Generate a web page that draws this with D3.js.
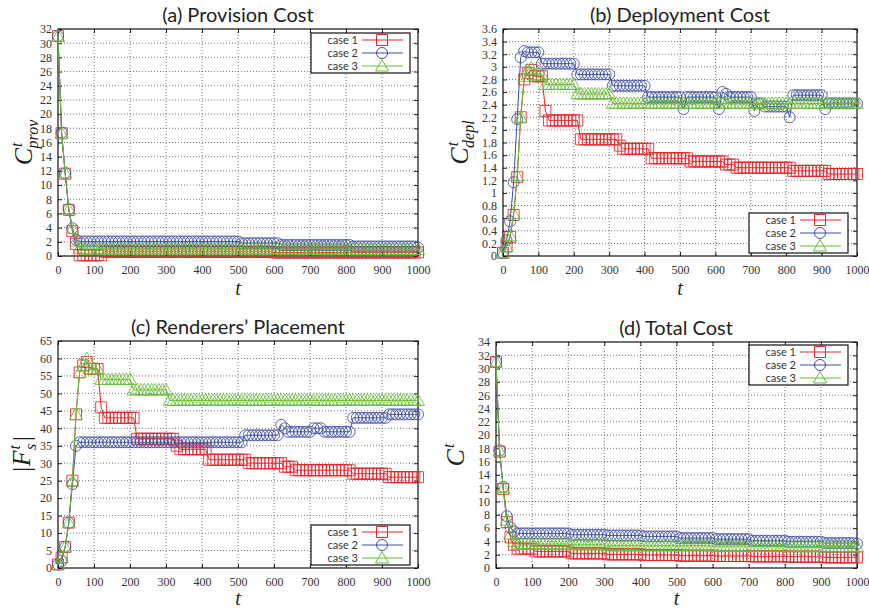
<!DOCTYPE html>
<html>
<head>
<meta charset="utf-8">
<script src="https://cdn.jsdelivr.net/npm/d3@7"></script>
<style>
  body { margin: 0; background: #fff; }
  .title { font-family: "Lato", sans-serif; font-size: 20px; fill: #222; }
  .legend-text { font-family: "Lato", sans-serif; font-size: 11px; fill: #333; }
  .math { font-family: "Liberation Serif", serif; font-style: italic; fill: #222; }
</style>
</head>
<body>
<script>
// time steps (markers every 10 slots)
var tSteps = d3.range(0, 1001, 10);
var caseNames = ["case 1", "case 2", "case 3"];

// (a) Provision cost
var prov1 = [31, 17.3, 11.6, 6.5, 3.5, 1.7, 0.1, 0.1, 0.1, 0.1,
  0.1, 0.1, 0.1, 0.6, 0.6, 0.6, 0.6, 0.6, 0.6, 0.6,
  0.6, 0.6, 0.6, 0.6, 0.6, 0.6, 0.6, 0.6, 0.6, 0.6,
  0.6, 0.6, 0.6, 0.6, 0.6, 0.6, 0.6, 0.6, 0.6, 0.6,
  0.6, 0.6, 0.6, 0.6, 0.6, 0.6, 0.6, 0.6, 0.6, 0.6,
  0.6, 0.6, 0.6, 0.6, 0.6, 0.6, 0.6, 0.6, 0.6, 0.6,
  0.5, 0.5, 0.5, 0.5, 0.5, 0.5, 0.5, 0.5, 0.5, 0.5,
  0.5, 0.5, 0.5, 0.5, 0.5, 0.5, 0.5, 0.5, 0.5, 0.5,
  0.5, 0.5, 0.5, 0.5, 0.5, 0.5, 0.5, 0.5, 0.5, 0.5,
  0.5, 0.5, 0.5, 0.5, 0.5, 0.5, 0.5, 0.5, 0.5, 0.5,
  0.5];
var prov2 = [31, 17.4, 11.7, 6.6, 3.9, 2.3, 2.05, 2.05, 2.05, 2.05,
  2.05, 2.05, 2.05, 2.05, 2.05, 2.05, 2.05, 2.05, 2.05, 2.05,
  2.05, 2.05, 2.05, 2.05, 2.05, 2.05, 2.05, 2.05, 2.05, 2.05,
  2.05, 2.05, 2.05, 2.05, 2.05, 2.05, 2.05, 2.05, 2.05, 2.05,
  2.05, 2.05, 2.05, 2.05, 2.05, 2.05, 2.05, 2.05, 2.05, 2.05,
  2.05, 1.8, 1.8, 1.8, 1.8, 1.8, 1.8, 1.8, 1.8, 1.8,
  1.8, 1.8, 1.55, 1.55, 1.55, 1.55, 1.55, 1.55, 1.55, 1.55,
  1.55, 1.55, 1.55, 1.55, 1.55, 1.55, 1.55, 1.55, 1.55, 1.55,
  1.55, 1.55, 1.35, 1.35, 1.35, 1.35, 1.35, 1.35, 1.35, 1.35,
  1.35, 1.35, 1.35, 1.35, 1.35, 1.35, 1.35, 1.35, 1.35, 1.35,
  1.2];
var prov3 = [31, 17.3, 11.7, 6.6, 3.9, 2.1, 1.1, 1.0, 1.0, 1.0,
  1.0, 1.0, 1.0, 1.0, 1.0, 1.0, 1.0, 1.0, 1.0, 1.0,
  1.0, 1.0, 1.0, 1.0, 1.0, 1.0, 1.0, 1.0, 1.0, 1.0,
  1.0, 1.0, 1.0, 1.0, 1.0, 1.0, 1.0, 1.0, 1.0, 1.0,
  1.0, 1.0, 1.0, 1.0, 1.0, 1.0, 1.0, 1.0, 1.0, 1.0,
  1.0, 1.0, 1.0, 1.0, 1.0, 1.0, 1.0, 1.0, 1.0, 1.0,
  0.95, 0.95, 0.95, 0.95, 0.95, 0.95, 0.95, 0.95, 0.95, 0.95,
  0.95, 0.95, 0.95, 0.95, 0.95, 0.95, 0.95, 0.95, 0.95, 0.95,
  0.9, 0.9, 0.9, 0.9, 0.9, 0.9, 0.9, 0.9, 0.9, 0.9,
  0.9, 0.9, 0.9, 0.9, 0.9, 0.9, 0.9, 0.9, 0.9, 0.9,
  0.9];

// (b) Deployment cost
var depl1 = [0.05, 0.15, 0.3, 0.65, 1.25, 2.2, 2.8, 2.9, 2.95, 2.85,
  2.85, 2.85, 2.3, 2.15, 2.15, 2.15, 2.15, 2.15, 2.15, 2.15,
  2.15, 2.15, 1.85, 1.85, 1.85, 1.85, 1.85, 1.85, 1.85, 1.85,
  1.85, 1.85, 1.85, 1.75, 1.7, 1.7, 1.7, 1.7, 1.7, 1.7,
  1.7, 1.7, 1.55, 1.55, 1.55, 1.55, 1.55, 1.55, 1.55, 1.55,
  1.55, 1.55, 1.55, 1.5, 1.5, 1.5, 1.5, 1.5, 1.5, 1.5,
  1.5, 1.5, 1.5, 1.45, 1.45, 1.45, 1.4, 1.4, 1.4, 1.4,
  1.4, 1.4, 1.4, 1.4, 1.4, 1.4, 1.4, 1.4, 1.4, 1.4,
  1.4, 1.4, 1.35, 1.35, 1.35, 1.35, 1.35, 1.35, 1.35, 1.35,
  1.35, 1.35, 1.3, 1.3, 1.3, 1.3, 1.3, 1.3, 1.3, 1.3,
  1.3];
var depl2 = [0.05, 0.25, 0.55, 1.17, 2.17, 3.15, 3.25, 3.23, 3.23, 3.23,
  3.23, 3.05, 3.05, 3.05, 3.05, 3.05, 3.05, 3.05, 3.05, 3.05,
  3.05, 2.88, 2.88, 2.88, 2.88, 2.88, 2.88, 2.88, 2.88, 2.88,
  2.88, 2.7, 2.7, 2.7, 2.7, 2.7, 2.7, 2.7, 2.7, 2.7,
  2.7, 2.52, 2.52, 2.52, 2.52, 2.52, 2.52, 2.52, 2.52, 2.52,
  2.52, 2.33, 2.52, 2.52, 2.52, 2.52, 2.52, 2.52, 2.52, 2.52,
  2.52, 2.33, 2.6, 2.57, 2.52, 2.52, 2.52, 2.52, 2.52, 2.52,
  2.52, 2.3, 2.42, 2.42, 2.37, 2.37, 2.37, 2.37, 2.37, 2.37,
  2.37, 2.2, 2.55, 2.55, 2.55, 2.55, 2.55, 2.55, 2.55, 2.55,
  2.55, 2.33, 2.42, 2.42, 2.42, 2.42, 2.42, 2.42, 2.42, 2.42,
  2.42];
var depl3 = [0.05, 0.15, 0.32, 0.67, 1.27, 2.2, 2.85, 2.95, 2.98, 2.87,
  2.87, 2.87, 2.72, 2.72, 2.72, 2.72, 2.72, 2.72, 2.72, 2.72,
  2.72, 2.57, 2.57, 2.57, 2.57, 2.57, 2.57, 2.57, 2.57, 2.57,
  2.57, 2.42, 2.42, 2.42, 2.42, 2.42, 2.42, 2.42, 2.42, 2.42,
  2.42, 2.42, 2.42, 2.42, 2.42, 2.42, 2.42, 2.42, 2.42, 2.42,
  2.42, 2.42, 2.42, 2.42, 2.42, 2.42, 2.42, 2.42, 2.42, 2.42,
  2.42, 2.42, 2.42, 2.42, 2.42, 2.42, 2.42, 2.42, 2.42, 2.42,
  2.42, 2.42, 2.42, 2.42, 2.42, 2.42, 2.42, 2.42, 2.42, 2.42,
  2.42, 2.42, 2.42, 2.42, 2.42, 2.42, 2.42, 2.42, 2.42, 2.42,
  2.42, 2.42, 2.42, 2.42, 2.42, 2.42, 2.42, 2.42, 2.42, 2.42,
  2.42];

// (c) Renderers' placement
var rend1 = [1, 3, 6, 13, 25, 44, 56, 58, 59, 57,
  57, 57, 46, 43, 43, 43, 43, 43, 43, 43,
  43, 43, 37, 37, 37, 37, 37, 37, 37, 37,
  37, 37, 37, 35, 34, 34, 34, 34, 34, 34,
  34, 34, 31, 31, 31, 31, 31, 31, 31, 31,
  31, 31, 31, 30, 30, 30, 30, 30, 30, 30,
  30, 30, 30, 29, 29, 29, 28, 28, 28, 28,
  28, 28, 28, 28, 28, 28, 28, 28, 28, 28,
  28, 28, 27, 27, 27, 27, 27, 27, 27, 27,
  27, 27, 26, 26, 26, 26, 26, 26, 26, 26,
  26];
var rend2 = [1, 2, 6, 13, 24, 35, 36, 36, 36, 36,
  36, 36, 36, 36, 36, 36, 36, 36, 36, 36,
  36, 36, 36, 36, 36, 36, 36, 36, 36, 36,
  36, 36, 36, 36, 36, 36, 36, 36, 36, 36,
  36, 36, 36, 36, 36, 36, 36, 36, 36, 36,
  36, 36, 38, 38, 38, 38, 38, 38, 38, 38,
  38, 38, 41, 40, 39, 39, 39, 39, 39, 39,
  39, 40, 40, 40, 39, 39, 39, 39, 39, 39,
  39, 39, 43, 43, 43, 43, 43, 43, 43, 43,
  43, 43, 44, 44, 44, 44, 44, 44, 44, 44,
  44];
var rend3 = [1, 3, 6, 13, 25, 44, 56, 58, 60, 57,
  57, 57, 54, 54, 54, 54, 54, 54, 54, 54,
  54, 51, 51, 51, 51, 51, 51, 51, 51, 51,
  51, 48, 48, 48, 48, 48, 48, 48, 48, 48,
  48, 48, 48, 48, 48, 48, 48, 48, 48, 48,
  48, 48, 48, 48, 48, 48, 48, 48, 48, 48,
  48, 48, 48, 48, 48, 48, 48, 48, 48, 48,
  48, 48, 48, 48, 48, 48, 48, 48, 48, 48,
  48, 48, 48, 48, 48, 48, 48, 48, 48, 48,
  48, 48, 48, 48, 48, 48, 48, 48, 48, 48,
  48];

// (d) Total cost
var tot1 = [31, 17.5, 11.9, 6.9, 4.6, 3.5, 2.9, 2.9, 2.9, 2.9,
  2.9, 2.5, 2.5, 2.5, 2.5, 2.5, 2.5, 2.5, 2.5, 2.5,
  2.5, 2.2, 2.2, 2.2, 2.2, 2.2, 2.2, 2.2, 2.2, 2.2,
  2.2, 2.05, 2.05, 2.05, 2.05, 2.05, 2.05, 2.05, 2.05, 2.05,
  2.05, 1.95, 1.95, 1.95, 1.95, 1.95, 1.95, 1.95, 1.95, 1.95,
  1.95, 1.85, 1.85, 1.85, 1.85, 1.85, 1.85, 1.85, 1.85, 1.85,
  1.85, 1.8, 1.8, 1.8, 1.8, 1.8, 1.8, 1.8, 1.8, 1.8,
  1.8, 1.75, 1.75, 1.75, 1.75, 1.75, 1.75, 1.75, 1.75, 1.75,
  1.75, 1.7, 1.7, 1.7, 1.7, 1.7, 1.7, 1.7, 1.7, 1.7,
  1.7, 1.6, 1.6, 1.6, 1.6, 1.6, 1.6, 1.6, 1.6, 1.6,
  1.6];
var tot2 = [31, 17.7, 12.2, 7.8, 6.1, 5.5, 5.2, 5.2, 5.2, 5.2,
  5.2, 5.2, 5.2, 5.2, 5.2, 5.2, 5.2, 5.2, 5.2, 5.2,
  5.2, 5.0, 5.0, 5.0, 5.0, 5.0, 5.0, 5.0, 5.0, 5.0,
  5.0, 4.9, 4.9, 4.9, 4.9, 4.9, 4.9, 4.9, 4.9, 4.9,
  4.9, 4.75, 4.75, 4.75, 4.75, 4.75, 4.75, 4.75, 4.75, 4.75,
  4.75, 4.5, 4.5, 4.5, 4.5, 4.5, 4.5, 4.5, 4.5, 4.5,
  4.5, 4.35, 4.35, 4.35, 4.35, 4.35, 4.35, 4.35, 4.35, 4.35,
  4.35, 4.1, 4.1, 4.1, 4.1, 4.1, 4.1, 4.1, 4.1, 4.1,
  4.1, 3.95, 3.95, 3.95, 3.95, 3.95, 3.95, 3.95, 3.95, 3.95,
  3.95, 3.75, 3.75, 3.75, 3.75, 3.75, 3.75, 3.75, 3.75, 3.75,
  3.65];
var tot3 = [31, 17.6, 12.1, 7.2, 5.1, 4.0, 3.6, 3.6, 3.6, 3.6,
  3.6, 3.6, 3.6, 3.6, 3.6, 3.6, 3.6, 3.6, 3.6, 3.6,
  3.6, 3.5, 3.5, 3.5, 3.5, 3.5, 3.5, 3.5, 3.5, 3.5,
  3.5, 3.35, 3.35, 3.35, 3.35, 3.35, 3.35, 3.35, 3.35, 3.35,
  3.35, 3.35, 3.35, 3.35, 3.35, 3.35, 3.35, 3.35, 3.35, 3.35,
  3.35, 3.35, 3.35, 3.35, 3.35, 3.35, 3.35, 3.35, 3.35, 3.35,
  3.3, 3.3, 3.3, 3.3, 3.3, 3.3, 3.3, 3.3, 3.3, 3.3,
  3.25, 3.25, 3.25, 3.25, 3.25, 3.25, 3.25, 3.25, 3.25, 3.25,
  3.2, 3.2, 3.2, 3.2, 3.2, 3.2, 3.2, 3.2, 3.2, 3.2,
  3.2, 3.2, 3.2, 3.2, 3.2, 3.2, 3.2, 3.2, 3.2, 3.2,
  3.2];

var colors = ["#e4252b", "#3d4ea3", "#67bc36"];
var shapes = ["square", "circle", "triangle"];

var svg = d3.select("body").append("svg")
  .attr("width", 869)
  .attr("height", 610);

function markerPath(shape) {
  if (shape == "square") return "M-5.5,-5.5H5.5V5.5H-5.5Z";
  if (shape == "circle") return "M5.5,0A5.5,5.5 0 1,1 -5.5,0A5.5,5.5 0 1,1 5.5,0Z";
  return "M0,-6.5L6.5,5L-6.5,5Z";
}

function drawPanel(p) {
  var x = d3.scaleLinear().domain([0, 1000]).range([p.left, p.right]);
  var y = d3.scaleLinear().domain([0, p.yMax]).range([p.bottom, p.top]);
  var yTicks = d3.range(0, p.yMax + p.yStep / 2, p.yStep);
  var xTicks = d3.range(0, 1001, 100);
  var g = svg.append("g");

  // grid
  g.selectAll(".gx").data(xTicks.slice(1, -1)).enter().append("line")
    .attr("x1", function(d) { return x(d); }).attr("x2", function(d) { return x(d); })
    .attr("y1", p.top).attr("y2", p.bottom)
    .attr("stroke", "#555").attr("stroke-width", 0.8).attr("stroke-dasharray", "1,2");
  g.selectAll(".gy").data(yTicks.slice(1, -1)).enter().append("line")
    .attr("x1", p.left).attr("x2", p.right)
    .attr("y1", function(d) { return y(d); }).attr("y2", function(d) { return y(d); })
    .attr("stroke", "#555").attr("stroke-width", 0.8).attr("stroke-dasharray", "1,2");

  // axes (ticks inside, mirrored)
  var fmt = function(d) { return d3.format("~g")(+d.toFixed(2)); };
  g.append("g").attr("transform", "translate(0," + p.bottom + ")")
    .call(d3.axisBottom(x).tickValues(xTicks).tickSize(-4).tickPadding(9).tickFormat(fmt));
  g.append("g").attr("transform", "translate(" + p.left + ",0)")
    .call(d3.axisLeft(y).tickValues(yTicks).tickSize(-4).tickPadding(6).tickFormat(fmt));
  g.append("g").attr("transform", "translate(0," + p.top + ")")
    .call(d3.axisTop(x).tickValues(xTicks).tickSize(-4).tickFormat(""));
  g.append("g").attr("transform", "translate(" + p.right + ",0)")
    .call(d3.axisRight(y).tickValues(yTicks).tickSize(-4).tickFormat(""));
  g.selectAll(".domain").remove();
  g.selectAll(".tick line").attr("stroke", "#222");
  g.selectAll(".tick text")
    .attr("fill", "#333")
    .style("font-family", "'Liberation Serif', serif")
    .style("font-size", "12px");

  g.append("rect")
    .attr("x", p.left).attr("y", p.top)
    .attr("width", p.right - p.left).attr("height", p.bottom - p.top)
    .attr("fill", "none").attr("stroke", "#111").attr("stroke-width", 1.2);

  // series
  p.series.forEach(function(vals, k) {
    var pts = vals.map(function(v, i) { return [tSteps[i], v]; });
    var line = d3.line()
      .x(function(d) { return x(d[0]); })
      .y(function(d) { return y(d[1]); });
    g.append("path")
      .datum(pts)
      .attr("d", line)
      .attr("fill", "none")
      .attr("stroke", colors[k])
      .attr("stroke-width", 1);
    g.selectAll(".m" + k).data(pts).enter().append("path")
      .attr("transform", function(d) { return "translate(" + x(d[0]) + "," + y(d[1]) + ")"; })
      .attr("d", markerPath(shapes[k]))
      .attr("fill", "none")
      .attr("stroke", colors[k])
      .attr("stroke-opacity", 0.85)
      .attr("stroke-width", 1);
  });

  // title
  svg.append("text").attr("class", "title")
    .attr("x", p.titleX).attr("y", p.titleY)
    .attr("text-anchor", "middle")
    .text(p.title);

  // x label
  svg.append("text").attr("class", "math")
    .attr("x", (p.left + p.right) / 2).attr("y", p.xLabelY)
    .attr("text-anchor", "middle")
    .style("font-size", "20px")
    .text("t");

  // y label
  var yl = svg.append("text").attr("class", "math")
    .attr("transform", "translate(" + p.yLabelX + "," + ((p.top + p.bottom) / 2) + ") rotate(-90)")
    .attr("text-anchor", "middle")
    .style("font-size", "26px");
  p.yLabel(yl);

  // legend
  var L = p.legend;
  var lg = svg.append("g");
  lg.append("rect").attr("x", L.x).attr("y", L.y).attr("width", 99).attr("height", 40)
    .attr("fill", "#fff").attr("stroke", "#111").attr("stroke-width", 1.2);
  caseNames.forEach(function(name, k) {
    var yy = L.y + 7 + k * 13;
    lg.append("text").attr("class", "legend-text")
      .attr("x", L.x + 47).attr("y", yy + 4)
      .attr("text-anchor", "end")
      .text(name);
    lg.append("line")
      .attr("x1", L.x + 51).attr("x2", L.x + 92)
      .attr("y1", yy).attr("y2", yy)
      .attr("stroke", colors[k]).attr("stroke-width", 1);
    lg.append("path")
      .attr("transform", "translate(" + (L.x + 71) + "," + yy + ")")
      .attr("d", markerPath(shapes[k]))
      .attr("fill", "none")
      .attr("stroke", colors[k]).attr("stroke-width", 1);
  });
}

function cLabel(sub) {
  return function(t) {
    t.append("tspan").text("C");
    t.append("tspan").attr("dy", -10).attr("dx", 1).style("font-size", "16px").text("t");
    if (sub) t.append("tspan").attr("dy", 16).attr("dx", -6).style("font-size", "16px").text(sub);
  };
}

drawPanel({
  left: 58, right: 418, top: 29, bottom: 256, yMax: 32, yStep: 2,
  title: "(a) Provision Cost", titleX: 238, titleY: 22, yLabelX: 32, xLabelY: 295,
  legend: {x: 311, y: 33},
  series: [prov1, prov2, prov3], yLabel: cLabel("prov")
});
drawPanel({
  left: 503, right: 857, top: 29, bottom: 256, yMax: 3.6, yStep: 0.2,
  title: "(b) Deployment Cost", titleX: 680, titleY: 22, yLabelX: 468, xLabelY: 295,
  legend: {x: 749, y: 213},
  series: [depl1, depl2, depl3], yLabel: cLabel("depl")
});
drawPanel({
  left: 58, right: 418, top: 341, bottom: 568, yMax: 65, yStep: 5,
  title: "(c) Renderers\u2019 Placement", titleX: 238, titleY: 334, yLabelX: 30, xLabelY: 605,
  legend: {x: 311, y: 525},
  series: [rend1, rend2, rend3],
  yLabel: function(t) {
    t.append("tspan").text("|F");
    t.append("tspan").attr("dy", -10).attr("dx", 1).style("font-size", "16px").text("t");
    t.append("tspan").attr("dy", 16).attr("dx", -5).style("font-size", "16px").text("s");
    t.append("tspan").attr("dy", -6).attr("dx", 1).text("|");
  }
});
drawPanel({
  left: 496, right: 857, top: 342, bottom: 568, yMax: 34, yStep: 2,
  title: "(d) Total Cost", titleX: 676, titleY: 335, yLabelX: 464, xLabelY: 605,
  legend: {x: 749, y: 345},
  series: [tot1, tot2, tot3], yLabel: cLabel(null)
});
</script>
</body>
</html>
